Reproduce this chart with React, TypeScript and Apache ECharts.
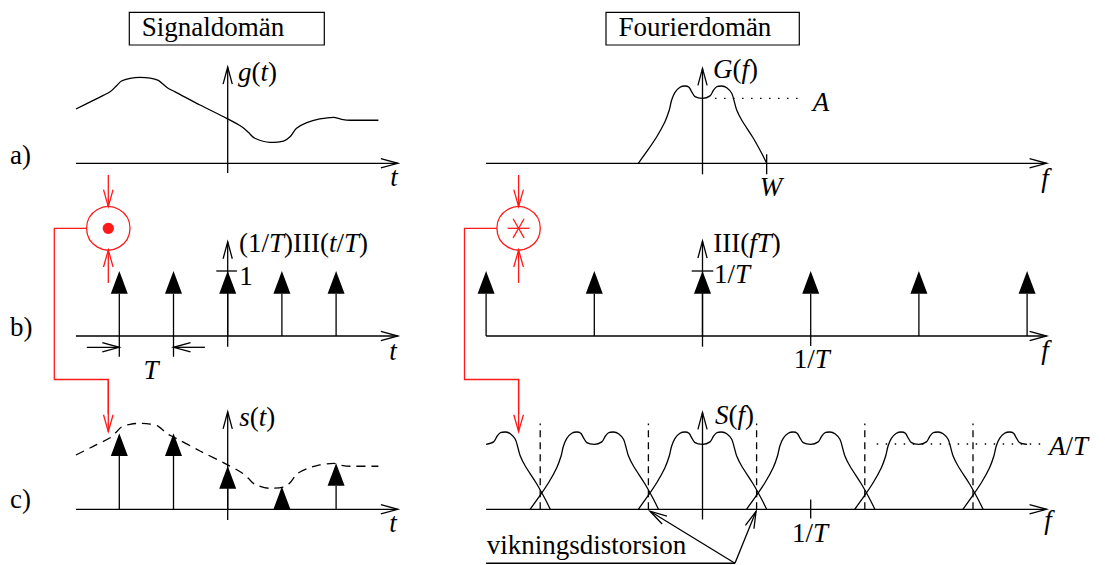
import React, { useEffect, useRef } from "react";
import * as echarts from "echarts";

// ---- data (t in units of T, f in units of 1/T, amplitudes with A = 1) ----
const sampleTimes = [-2, -1, 0, 1, 2];
const combHeights = [1, 1, 1, 1, 1];
const sampledHeights = [1.17, 1.17, 0.666, 0.35, 0.71];
const freqComb = [-2, -1, 0, 1, 2, 3];
const freqCombHeights = [1, 1, 1, 1, 1, 1];
const replicaShifts = [-2, -1, 0, 1, 2, 3];
const foldFreqs = [-1.5, -0.5, 0.5, 1.5, 2.5];

// g(t)
const signalCurve: number[][] = [
  [-2.8, 0.835], [-2.48, 0.969], [-2.17, 1.1], [-2.05, 1.194], [-1.96, 1.266],
  [-1.8, 1.308], [-1.62, 1.323], [-1.43, 1.312], [-1.28, 1.277], [-1.19, 1.215],
  [-1.1, 1.154], [-0.97, 1.1], [-0.51, 0.897], [-0.02, 0.692], [0.26, 0.563],
  [0.38, 0.477], [0.5, 0.385], [0.78, 0.323], [1.03, 0.343], [1.15, 0.409],
  [1.27, 0.538], [1.46, 0.625], [1.7, 0.682], [1.95, 0.708], [2.1, 0.677],
  [2.26, 0.662], [2.78, 0.662],
];

// G(f), band limited to |f| <= W
const spectrumCurve: number[][] = [
  [-0.593, 0], [-0.516, 0.178], [-0.423, 0.409], [-0.347, 0.64], [-0.307, 0.82],
  [-0.285, 0.974], [-0.254, 1.092], [-0.208, 1.169], [-0.162, 1.189], [-0.125, 1.169],
  [-0.1, 1.1], [-0.069, 1.025], [0, 1.0], [0.069, 1.037], [0.1, 1.12],
  [0.131, 1.178], [0.177, 1.189], [0.224, 1.163], [0.27, 1.077], [0.294, 0.948],
  [0.316, 0.82], [0.362, 0.666], [0.47, 0.385], [0.547, 0.154], [0.593, 0],
];

const tAxis = [-2.8, 3.14];
const fAxis = [-2.0, 3.18];

// segments: [x0, y0, x1, y1, arrowhead]
const axesLeftA = [[tAxis[0], 0, tAxis[1], 0, 1], [0, -0.15, 0, 1.48, 1]];
const axesLeftB = [
  [tAxis[0], 0, tAxis[1], 0, 1], [0, -0.165, 0, 1.45, 1],
  [-0.21, 1, 0.17, 1, 0],
  [-2, -0.32, -2, 0, 0], [-1, -0.32, -1, 0, 0],
  [-2.6, -0.174, -2, -0.174, 1], [-0.42, -0.174, -1, -0.174, 1],
];
const axesLeftC = [[tAxis[0], 0, tAxis[1], 0, 1], [0, -0.165, 0, 1.5, 1]];
const axesRightA = [[fAxis[0], 0, fAxis[1], 0, 1], [0, -0.17, 0, 1.46, 1], [0.593, -0.17, 0.593, 0.14, 0]];
const axesRightB = [
  [fAxis[0], 0, fAxis[1], 0, 1], [0, -0.165, 0, 1.46, 1],
  [-0.1, 1, 0.1, 1, 0], [1, -0.155, 1, 0, 0],
];
const axesRightC = [
  [fAxis[0], 0, fAxis[1], 0, 1], [0, -0.157, 0, 1.49, 1],
  [1, -0.14, 1, 0.15, 0],
  [-2.0, -0.83, 0.3, -0.83, 0],
  [0.3, -0.83, -0.485, -0.03, 1], [0.3, -0.83, 0.495, -0.03, 1],
];
const levelA = [[0.116, 1, 0.947, 1, 0]];
const levelAT = [[1.61, 1.005, 3.147, 1.005, 0]];

// ---- layout ----
const Y_MIN = -0.8;
const Y_MAX = 1.6;
const Y_UNIT = 65;
const rowBase = [163.3, 336, 509.3];
const cols = [
  { min: -3, max: 3.5, px0: 227.7, unit: 54.2 },
  { min: -2.2, max: 3.4, px0: 702.5, unit: 108.2 },
];
const FONT = "Liberation Serif, serif";
const FS = 27;
const LW = 1.3;
const RED = "#ff1a1a";

function headPoints(a: number[], b: number[], len = 17, half = 4.6) {
  const dx = b[0] - a[0];
  const dy = b[1] - a[1];
  const L = Math.hypot(dx, dy) || 1;
  const ux = dx / L;
  const uy = dy / L;
  const bx = b[0] - ux * len;
  const by = b[1] - uy * len;
  return [[bx - uy * half, by + ux * half], [b[0], b[1]], [bx + uy * half, by - ux * half]];
}

function segmentSeries(panel: number, data: number[][], dash?: number[]) {
  return {
    type: "custom",
    xAxisIndex: panel,
    yAxisIndex: panel,
    silent: true,
    clip: false,
    dimensions: ["x0", "y0", "x1", "y1", "h"],
    encode: { x: [0, 2], y: [1, 3] },
    data,
    renderItem: (_p: any, api: any) => {
      const a = api.coord([api.value(0), api.value(1)]);
      const b = api.coord([api.value(2), api.value(3)]);
      const children: any[] = [
        {
          type: "line",
          shape: { x1: a[0], y1: a[1], x2: b[0], y2: b[1] },
          style: { stroke: "#000", lineWidth: LW, lineDash: dash || null, fill: null },
        },
      ];
      if (api.value(4)) {
        children.push({
          type: "polyline",
          shape: { points: headPoints(a, b) },
          style: { stroke: "#000", lineWidth: LW, fill: null },
        });
      }
      return { type: "group", children };
    },
  };
}

function impulseSeries(panel: number, xs: number[], hs: number[]) {
  return {
    type: "custom",
    xAxisIndex: panel,
    yAxisIndex: panel,
    silent: true,
    clip: false,
    data: xs.map((x, i) => [x, hs[i]]),
    renderItem: (_p: any, api: any) => {
      const base = api.coord([api.value(0), 0]);
      const tip = api.coord([api.value(0), api.value(1)]);
      const hh = 22.7;
      const hw = 8.5;
      const children: any[] = [];
      if (base[1] - tip[1] > hh) {
        children.push({
          type: "line",
          shape: { x1: base[0], y1: base[1], x2: tip[0], y2: tip[1] + hh },
          style: { stroke: "#000", lineWidth: LW },
        });
      }
      children.push({
        type: "polygon",
        shape: { points: [[tip[0], tip[1]], [tip[0] - hw, tip[1] + hh], [tip[0] + hw, tip[1] + hh]] },
        style: { fill: "#000" },
      });
      return { type: "group", children };
    },
  };
}

function curveSeries(panel: number, data: number[][], dash?: number[]) {
  return {
    type: "line",
    xAxisIndex: panel,
    yAxisIndex: panel,
    silent: true,
    data,
    smooth: 0.3,
    showSymbol: false,
    symbol: "none",
    lineStyle: { color: "#000", width: LW, type: dash || "solid" },
  };
}

const rich = {
  r: { fontFamily: FONT, fontSize: FS, fill: "#000" },
  i: { fontFamily: FONT, fontSize: FS, fontStyle: "italic", fill: "#000" },
};

function label(x: number, y: number, text: string, align = "left") {
  return {
    type: "text",
    x,
    y,
    silent: true,
    style: {
      text,
      rich,
      fontFamily: FONT,
      fontSize: FS,
      fill: "#000",
      align,
      verticalAlign: "middle",
      textAlign: align,
      textVerticalAlign: "middle",
    },
  };
}

function redArrow(a: number[], b: number[]) {
  return [
    { type: "line", shape: { x1: a[0], y1: a[1], x2: b[0], y2: b[1] }, style: { stroke: RED, lineWidth: LW } },
    { type: "polyline", shape: { points: headPoints(a, b, 17, 4.8) }, style: { stroke: RED, lineWidth: LW, fill: null } },
  ];
}

function operator(cx: number, cy: number, railX: number, star: boolean) {
  const r = 21.7;
  const els: any[] = [
    { type: "circle", shape: { cx, cy, r }, style: { stroke: RED, lineWidth: LW, fill: null } },
  ];
  if (star) {
    [0, 60, 120].forEach((deg) => {
      const a = (deg * Math.PI) / 180;
      const dx = Math.cos(a) * 11;
      const dy = Math.sin(a) * 11;
      els.push({
        type: "line",
        shape: { x1: cx - dx, y1: cy - dy, x2: cx + dx, y2: cy + dy },
        style: { stroke: RED, lineWidth: LW },
      });
    });
  } else {
    els.push({ type: "circle", shape: { cx, cy, r: 5.6 }, style: { fill: RED } });
  }
  els.push(...redArrow([cx, 175], [cx, cy - r]));
  els.push(...redArrow([cx, 283], [cx, cy + r]));
  els.push({
    type: "polyline",
    shape: { points: [[cx - r, cy], [railX, cy], [railX, 379.5], [cx, 379.5], [cx, 414]] },
    style: { stroke: RED, lineWidth: LW, fill: null },
  });
  els.push(...redArrow([cx, 379.5], [cx, 431.7]));
  return els;
}

function titleBox(x: number, w: number, text: string) {
  return [
    { type: "rect", shape: { x, y: 12.3, width: w, height: 32.7 }, style: { stroke: "#000", lineWidth: 1.2, fill: "#fff" } },
    label(x + 12.4, 27, "{r|" + text + "}"),
  ];
}

export default function App() {
  const ref = useRef<HTMLDivElement>(null);

  useEffect(() => {
    if (!ref.current) return;
    const chart = echarts.init(ref.current, undefined, { renderer: "svg" });

    const grids: any[] = [];
    const xAxes: any[] = [];
    const yAxes: any[] = [];
    cols.forEach((c) => {
      rowBase.forEach((b) => {
        grids.push({
          left: c.px0 + c.min * c.unit,
          width: (c.max - c.min) * c.unit,
          top: b - Y_MAX * Y_UNIT,
          height: (Y_MAX - Y_MIN) * Y_UNIT,
          containLabel: false,
        });
        xAxes.push({ type: "value", gridIndex: grids.length - 1, min: c.min, max: c.max, show: false });
        yAxes.push({ type: "value", gridIndex: grids.length - 1, min: Y_MIN, max: Y_MAX, show: false });
      });
    });

    const replicas = replicaShifts.map((k) =>
      curveSeries(
        5,
        spectrumCurve.map(([f, v]) => [f + k, v]).filter(([f]) => f >= -2 - 1e-9 && f <= 3 + 1e-9)
      )
    );

    const series: any[] = [
      curveSeries(0, signalCurve),
      segmentSeries(0, axesLeftA),
      segmentSeries(1, axesLeftB),
      impulseSeries(1, sampleTimes, combHeights),
      curveSeries(2, signalCurve, [9, 6]),
      segmentSeries(2, axesLeftC),
      impulseSeries(2, sampleTimes, sampledHeights),
      curveSeries(3, spectrumCurve),
      segmentSeries(3, axesRightA),
      segmentSeries(3, levelA, [1.5, 7.5]),
      segmentSeries(4, axesRightB),
      impulseSeries(4, freqComb, freqCombHeights),
      ...replicas,
      segmentSeries(5, axesRightC),
      segmentSeries(5, foldFreqs.map((f) => [f, 0, f, 1.32, 0]), [7, 5]),
      segmentSeries(5, levelAT, [1.5, 7.5]),
    ];

    const graphic: any[] = [
      ...titleBox(129.3, 195, "Signaldomän"),
      ...titleBox(606, 193.3, "Fourierdomän"),
      label(10, 155, "{r|a)}"),
      label(10, 327, "{r|b)}"),
      label(10, 499, "{r|c)}"),
      label(238, 72, "{i|g}{r|(}{i|t}{r|)}"),
      label(394, 177, "{i|t}", "center"),
      label(713, 69, "{i|G}{r|(}{i|f}{r|)}"),
      label(821, 101.5, "{i|A}", "center"),
      label(771, 187, "{i|W}", "center"),
      label(1045, 178, "{i|f}", "center"),
      label(239, 243, "{r|(1/}{i|T}{r|)III(}{i|t}{r|/}{i|T}{r|)}"),
      label(239.3, 276, "{r|1}"),
      label(393, 350.5, "{i|t}", "center"),
      label(151, 370, "{i|T}", "center"),
      label(713.3, 243, "{r|III(}{i|fT}{r|)}"),
      label(714, 274, "{r|1/}{i|T}"),
      label(1045, 350, "{i|f}", "center"),
      label(811.7, 359, "{r|1/}{i|T}", "center"),
      label(239.3, 417, "{i|s}{r|(}{i|t}{r|)}"),
      label(393, 523, "{i|t}", "center"),
      label(715, 414.5, "{i|S}{r|(}{i|f}{r|)}"),
      label(1049, 446, "{i|A}{r|/}{i|T}"),
      label(1048, 520, "{i|f}", "center"),
      label(810, 533, "{r|1/}{i|T}", "center"),
      label(486.7, 544.5, "{r|vikningsdistorsion}"),
      ...operator(108.3, 228.3, 54.3, false),
      ...operator(518.6, 228.3, 464.5, true),
    ];

    chart.setOption({
      animation: false,
      backgroundColor: "#fff",
      grid: grids,
      xAxis: xAxes,
      yAxis: yAxes,
      series,
      graphic,
    });

    return () => chart.dispose();
  }, []);

  return (
    <div
      ref={ref}
      style={{ position: "absolute", left: 0, top: 0, width: 1105, height: 565 }}
    />
  );
}
